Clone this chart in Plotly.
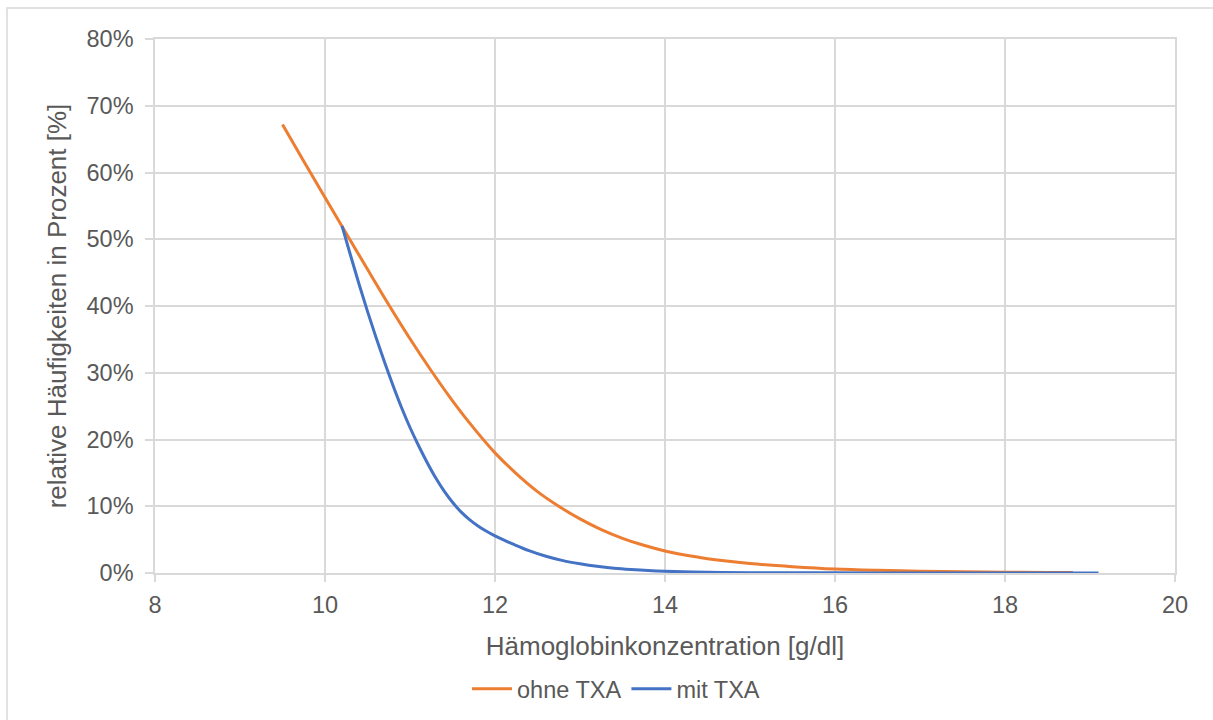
import plotly.graph_objects as go

# Hämoglobinkonzentration [g/dl] und relative Häufigkeit [%]
hb_ohne = [9.5, 9.75, 10.0, 10.25, 10.5, 10.75, 11.0, 11.25, 11.5, 11.75,
           12.0, 12.25, 12.5, 12.75, 13.0, 13.25, 13.5, 13.75, 14.0, 14.25,
           14.5, 14.75, 15.0, 15.5, 16.0, 16.5, 17.0, 17.5, 18.0, 18.5, 18.8]
pct_ohne = [67.2, 61.7, 56.25, 50.85, 45.5, 40.2, 35.1, 30.3, 25.8, 21.7,
            18.0, 14.9, 12.2, 10.0, 8.1, 6.5, 5.2, 4.15, 3.3, 2.65,
            2.15, 1.75, 1.42, 0.95, 0.6, 0.4, 0.27, 0.18, 0.12, 0.08, 0.06]

hb_mit = [10.2, 10.3, 10.4, 10.5, 10.6, 10.7, 10.8, 10.9, 11.0, 11.1,
          11.2, 11.3, 11.4, 11.5, 11.6, 11.7, 11.8, 11.9, 12.0, 12.1,
          12.2, 12.4, 12.6, 12.8, 13.0, 13.2, 13.4, 13.6, 13.8, 14.0,
          14.5, 15.0, 16.0, 17.0, 18.0, 19.1]
pct_mit = [52.0, 47.6, 43.3, 39.2, 35.3, 31.6, 28.1, 24.8, 21.8, 19.1,
           16.6, 14.3, 12.3, 10.6, 9.15, 8.0, 7.05, 6.25, 5.55, 4.95,
           4.4, 3.35, 2.5, 1.85, 1.38, 1.0, 0.72, 0.52, 0.36, 0.25,
           0.11, 0.05, 0.02, 0.01, 0.005, 0.0]

x_ticks = [8, 10, 12, 14, 16, 18, 20]
y_ticks = [0, 10, 20, 30, 40, 50, 60, 70, 80]
y_labels = ["0%", "10%", "20%", "30%", "40%", "50%", "60%", "70%", "80%"]

ORANGE = "#ED7D31"
BLUE = "#4472C4"
GRID = "#d9d9d9"
TEXT = "#595959"
FONT = "Liberation Sans, Arial, sans-serif"

fig = go.Figure()
fig.add_trace(go.Scatter(x=hb_ohne, y=pct_ohne, mode="lines", name="ohne TXA",
                         line=dict(color=ORANGE, width=3, shape="spline", smoothing=1.0)))
fig.add_trace(go.Scatter(x=hb_mit, y=pct_mit, mode="lines", name="mit TXA",
                         line=dict(color=BLUE, width=3, shape="spline", smoothing=1.0)))

W, H = 1213, 720
ml, mr, mt, mb = 155, 38, 39, 147
pw, ph = W - ml - mr, H - mt - mb


def px_x(p):
    return (p - ml) / pw


def px_y(p):
    return (H - mb - p) / ph


fig.update_layout(
    width=W, height=H,
    margin=dict(l=ml, r=mr, t=mt, b=mb, autoexpand=False),
    paper_bgcolor="white", plot_bgcolor="white",
    font=dict(family=FONT, color=TEXT, size=23),
    showlegend=True,
    legend=dict(orientation="h", x=px_x(616), xanchor="center",
                y=px_y(689), yanchor="middle",
                font=dict(size=23.5, color=TEXT), bgcolor="rgba(0,0,0,0)",
                itemwidth=40, tracegroupgap=0),
    xaxis=dict(
        range=[8, 20], tickvals=x_ticks, showgrid=True, gridcolor=GRID, gridwidth=1.5,
        showline=True, linecolor=GRID, linewidth=1.5, mirror=True, zeroline=False,
        ticks="outside", ticklen=7, tickcolor=GRID, tickwidth=1.5,
        ticklabelstandoff=3,
        tickfont=dict(size=23.5, color=TEXT),
        title=dict(text="Hämoglobinkonzentration [g/dl]", standoff=20,
                   font=dict(size=26, color=TEXT)),
    ),
    yaxis=dict(
        range=[0, 80], tickvals=y_ticks, ticktext=y_labels, showgrid=True,
        gridcolor=GRID, gridwidth=1.5,
        showline=True, linecolor=GRID, linewidth=1.5, mirror=True, zeroline=False,
        ticks="outside", ticklen=8, tickcolor=GRID, tickwidth=1.5,
        ticklabelstandoff=7,
        tickfont=dict(size=23.5, color=TEXT),
        title=dict(text="relative Häufigkeiten in Prozent [%]", standoff=12,
                   font=dict(size=26, color=TEXT)),
    ),
    shapes=[dict(type="rect", xref="paper", yref="paper",
                 x0=px_x(7), x1=px_x(1225), y0=px_y(735), y1=px_y(8),
                 line=dict(color=GRID, width=1.5), fillcolor="rgba(0,0,0,0)",
                 layer="below")],
)

fig.write_html("out.html")
